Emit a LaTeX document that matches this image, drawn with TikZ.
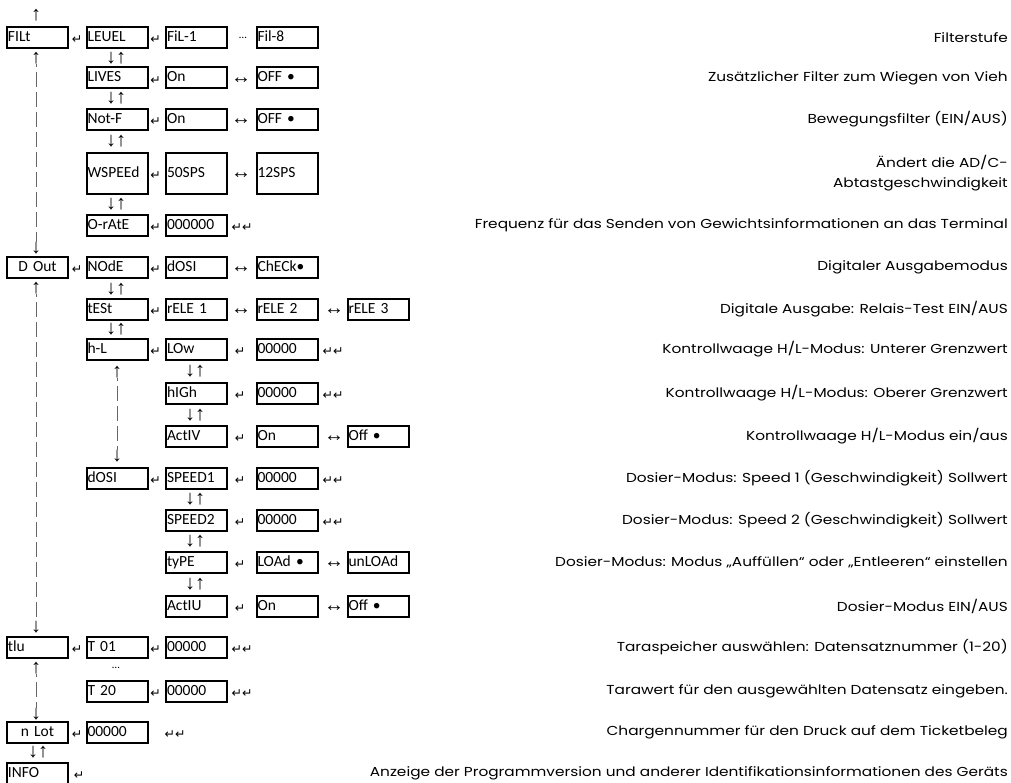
\documentclass[tikz,border=0pt]{standalone}
\usepackage{fontspec}
\setmainfont{Carlito}
\newfontfamily\descfont[FakeStretch=1.18]{Poppins}
\newfontfamily\symfont{DejaVu Sans}
\newfontfamily\arrfont{Liberation Sans}
\usepackage{tikz}

\begin{document}
\begin{tikzpicture}[x=1pt,y=-1pt,
box/.style={draw,line width=2pt,minimum width=61pt,minimum height=21pt,text width=59pt,inner sep=1pt,align=left,text height=10.5pt,text depth=2.5pt,font=\fontsize{15.5}{15.5}\selectfont},
tall/.style={minimum height=41pt},
mid/.style={align=center},
sym/.style={inner sep=0pt,font=\symfont\fontsize{12.5}{12.5}\selectfont},
arr/.style={inner sep=0pt,font=\arrfont\fontsize{20}{20}\selectfont},
desc/.style={anchor=east,inner sep=0pt,align=right,font=\descfont\fontsize{13}{20}\selectfont},
bars/.style={draw=black!60,line width=0.8pt,dash pattern=on 15pt off 5pt,dash phase=12pt}]
\useasboundingbox (0,0) rectangle (1011,783);
\node[box] (filt) at (37.5,37.5) {FILt};
\node[box] (leuel) at (117,37.5) {LEUEL};
\node[box] (fil1) at (196.5,37.5) {FiL-1};
\node[box] (fil8) at (287,37.5) {Fil-8};
\node[box] (lives) at (117,78) {LIVES};
\node[box] (liveson) at (196.5,78) {On};
\node[box] (livesoff) at (287,78) {OFF •};
\node[box] (notf) at (117,119.5) {Not-F};
\node[box] (notfon) at (196.5,119.5) {On};
\node[box] (notfoff) at (287,119.5) {OFF •};
\node[box,tall] (wspeed) at (117,173.5) {WSPEEd};
\node[box,tall] (sps50) at (196.5,173.5) {50SPS};
\node[box,tall] (sps12) at (287,173.5) {12SPS};
\node[box] (orate) at (117,225.5) {O-rAtE};
\node[box] (orateval) at (196.5,225.5) {000000};
\node[box,mid] (dout) at (37.5,267.5) {D Out};
\node[box] (mode) at (117,267.5) {NOdE};
\node[box] (modedosi) at (196.5,267.5) {dOSI};
\node[box] (modecheck) at (287,267.5) {ChECk•};
\node[box] (test) at (117,309.5) {tESt};
\node[box] (rele1) at (196.5,309.5) {rELE 1};
\node[box] (rele2) at (287,309.5) {rELE 2};
\node[box] (rele3) at (378,309.5) {rELE 3};
\node[box] (hl) at (117,349.5) {h-L};
\node[box] (low) at (196.5,349.5) {LOw};
\node[box] (lowval) at (287,349.5) {00000};
\node[box] (high) at (196.5,393.5) {hIGh};
\node[box] (highval) at (287,393.5) {00000};
\node[box] (activ) at (196.5,436.5) {ActIV};
\node[box] (activon) at (287,436.5) {On};
\node[box] (activoff) at (378,436.5) {Off •};
\node[box] (dosi) at (117,478.5) {dOSI};
\node[box] (speed1) at (196.5,478.5) {SPEED1};
\node[box] (speed1val) at (287,478.5) {00000};
\node[box] (speed2) at (196.5,520.5) {SPEED2};
\node[box] (speed2val) at (287,520.5) {00000};
\node[box] (type) at (196.5,562.5) {tyPE};
\node[box] (load) at (287,562.5) {LOAd •};
\node[box] (unload) at (378,562.5) {unLOAd};
\node[box] (actiu) at (196.5,606) {ActIU};
\node[box] (actiuon) at (287,606) {On};
\node[box] (actiuoff) at (378,606) {Off •};
\node[box] (tlu) at (37.5,647.5) {tlu};
\node[box] (t01) at (117,647.5) {T 01};
\node[box] (t01val) at (196.5,647.5) {00000};
\node[box] (t20) at (117,691) {T 20};
\node[box] (t20val) at (196.5,691) {00000};
\node[box,mid] (nlot) at (37.5,732) {n Lot};
\node[box] (nlotval) at (117,732) {00000};
\node[box] (info) at (37.5,773.5) {INFO};
\node[sym] (ret1) at (77,40) {↵};
\node[sym] (ret2) at (155.5,40) {↵};
\node[font=\fontsize{11}{11}\selectfont,inner sep=0pt] (dots1) at (243,38) {…};
\node[arr] (ud1) at (116,58) {↓↑};
\node[sym] (ret3) at (155.5,80.5) {↵};
\node[arr] (lr1) at (241,80.5) {↔};
\node[arr] (ud2) at (116,98.5) {↓↑};
\node[sym] (ret4) at (155.5,122) {↵};
\node[arr] (lr2) at (241,122) {↔};
\node[arr] (ud3) at (116,141.5) {↓↑};
\node[sym] (ret5) at (155.5,176) {↵};
\node[arr] (lr3) at (241,176) {↔};
\node[arr] (ud4) at (116,204) {↓↑};
\node[sym] (ret6) at (155.5,228) {↵};
\node[sym] (ret7) at (242,228) {↵↵};
\node[sym] (ret8) at (77,270) {↵};
\node[sym] (ret9) at (155.5,270) {↵};
\node[arr] (lr4) at (241,270) {↔};
\node[arr] (ud5) at (116,289) {↓↑};
\node[sym] (ret10) at (155.5,312) {↵};
\node[arr] (lr5) at (241,312) {↔};
\node[arr] (lr6) at (334,312) {↔};
\node[arr] (ud6) at (116,329.5) {↓↑};
\node[sym] (ret11) at (155.5,352) {↵};
\node[sym] (ret12) at (240,352) {↵};
\node[sym] (ret13) at (333,352) {↵↵};
\node[arr] (ud7) at (195,371.5) {↓↑};
\node[sym] (ret14) at (240,396) {↵};
\node[sym] (ret15) at (333,396) {↵↵};
\node[arr] (ud8) at (195,415) {↓↑};
\node[sym] (ret16) at (240,439) {↵};
\node[arr] (lr7) at (334,439) {↔};
\node[sym] (ret17) at (155.5,481) {↵};
\node[sym] (ret18) at (240,481) {↵};
\node[sym] (ret19) at (333,481) {↵↵};
\node[arr] (ud9) at (195,499.5) {↓↑};
\node[sym] (ret20) at (240,523) {↵};
\node[sym] (ret21) at (333,523) {↵↵};
\node[arr] (ud10) at (195,541.5) {↓↑};
\node[sym] (ret22) at (240,565) {↵};
\node[arr] (lr8) at (334,565) {↔};
\node[arr] (ud11) at (195,584) {↓↑};
\node[sym] (ret23) at (240,608.5) {↵};
\node[arr] (lr9) at (334,608.5) {↔};
\node[sym] (ret24) at (77,650) {↵};
\node[sym] (ret25) at (155.5,650) {↵};
\node[sym] (ret26) at (242,650) {↵↵};
\node[font=\fontsize{11}{11}\selectfont,inner sep=0pt] (dots2) at (116,668) {…};
\node[sym] (ret27) at (155.5,693.5) {↵};
\node[sym] (ret28) at (242,693.5) {↵↵};
\node[sym] (ret29) at (77,734.5) {↵};
\node[sym] (ret30) at (175,734.5) {↵↵};
\node[arr] (ud12) at (38,752.5) {↓↑};
\node[sym] (ret31) at (79,776) {↵};
\node[arr] (up0) at (36,15) {↑};
\node[arr] (filtup) at (36,58) {↑};
\node[arr] (filtdown) at (36,248) {↓};
\draw[bars] (filtup) -- (filtdown);
\node[arr] (doutup) at (36,288) {↑};
\node[arr] (doutdown) at (36,627) {↓};
\draw[bars] (doutup) -- (doutdown);
\node[arr] (hlup) at (117,372) {↑};
\node[arr] (hldown) at (117,456) {↓};
\draw[bars] (hlup) -- (hldown);
\node[arr] (tluup) at (36,668) {↑};
\node[arr] (tludown) at (36,714) {↓};
\draw[bars] (tluup) -- (tludown);
\node[desc] (dfilt) at (1008,37.5) {Filterstufe};
\node[desc] (dlives) at (1008,78) {Zusätzlicher Filter zum Wiegen von Vieh};
\node[desc] (dnotf) at (1008,119.5) {Bewegungsfilter (EIN/AUS)};
\node[desc] (dwspeed) at (1008,173.5) {Ändert die AD/C-\\Abtastgeschwindigkeit};
\node[desc] (dorate) at (1008,225.5) {Frequenz für das Senden von Gewichtsinformationen an das Terminal};
\node[desc] (dmode) at (1008,267.5) {Digitaler Ausgabemodus};
\node[desc] (dtest) at (1008,309.5) {Digitale Ausgabe: Relais-Test EIN/AUS};
\node[desc] (dlow) at (1008,349.5) {Kontrollwaage H/L-Modus: Unterer Grenzwert};
\node[desc] (dhigh) at (1008,393.5) {Kontrollwaage H/L-Modus: Oberer Grenzwert};
\node[desc] (dactiv) at (1008,436.5) {Kontrollwaage H/L-Modus ein/aus};
\node[desc] (dspeed1) at (1008,478.5) {Dosier-Modus: Speed 1 (Geschwindigkeit) Sollwert};
\node[desc] (dspeed2) at (1008,520.5) {Dosier-Modus: Speed 2 (Geschwindigkeit) Sollwert};
\node[desc] (dtype) at (1008,562.5) {Dosier-Modus: Modus „Auffüllen“ oder „Entleeren“ einstellen};
\node[desc] (dactiu) at (1008,606) {Dosier-Modus EIN/AUS};
\node[desc] (dtlu) at (1008,647.5) {Taraspeicher auswählen: Datensatznummer (1-20)};
\node[desc] (dt20) at (1008,691) {Tarawert für den ausgewählten Datensatz eingeben.};
\node[desc] (dnlot) at (1008,732) {Chargennummer für den Druck auf dem Ticketbeleg};
\node[desc] (dinfo) at (1008,773.5) {Anzeige der Programmversion und anderer Identifikationsinformationen des Geräts};
\end{tikzpicture}
\end{document}
